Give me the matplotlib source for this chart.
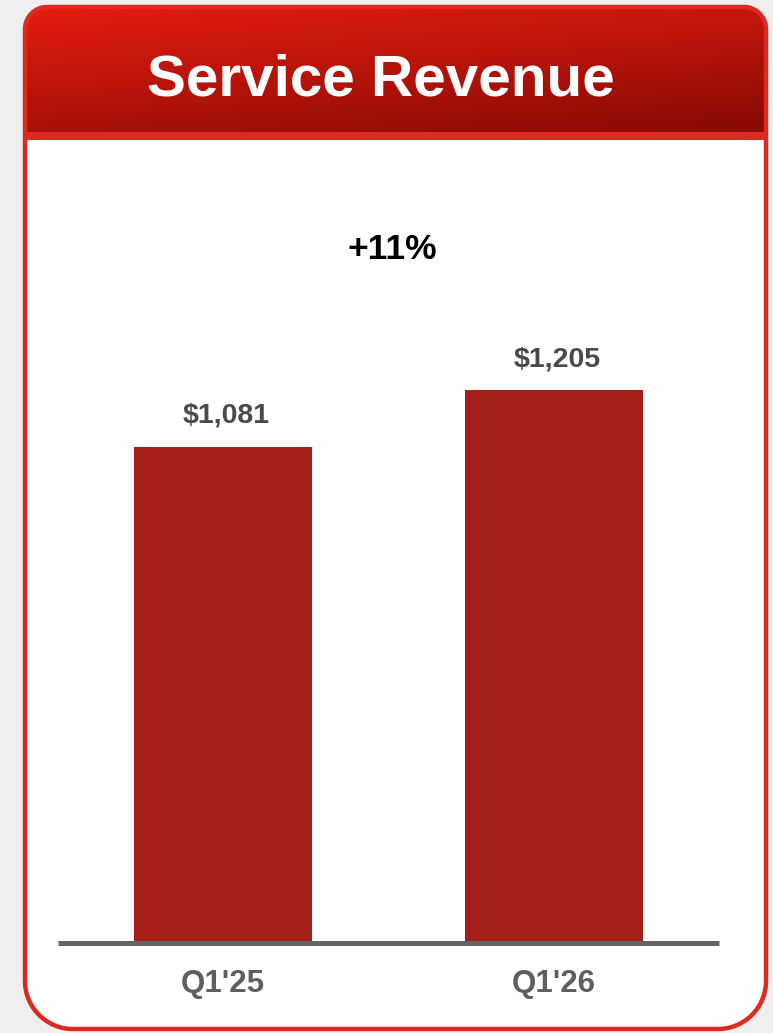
import numpy as np
import matplotlib
matplotlib.use("Agg")
import matplotlib.pyplot as plt
from matplotlib.path import Path
from matplotlib.patches import PathPatch

plt.rcParams['font.family'] = ['Liberation Sans', 'DejaVu Sans']

title = "Service Revenue"
growth = "+11%"
quarters = ["Q1'25", "Q1'26"]
revenue = [1081, 1205]
value_labels = ["$1,081", "$1,205"]

W, H = 773, 1033
BORDER = "#dc2a20"
BAR = "#a31f17"


def rounded_rect(x0, y0, x1, y1, r_top, r_bot):
    # path in pixel coords (y grows downward), different top/bottom radii
    k = 0.5523
    verts = [(x0 + r_top, y0), (x1 - r_top, y0),
             (x1 - r_top + k * r_top, y0), (x1, y0 + r_top - k * r_top), (x1, y0 + r_top)]
    codes = [Path.MOVETO, Path.LINETO, Path.CURVE4, Path.CURVE4, Path.CURVE4]
    if r_bot > 0:
        verts += [(x1, y1 - r_bot),
                  (x1, y1 - r_bot + k * r_bot), (x1 - r_bot + k * r_bot, y1), (x1 - r_bot, y1),
                  (x0 + r_bot, y1),
                  (x0 + r_bot - k * r_bot, y1), (x0, y1 - r_bot + k * r_bot), (x0, y1 - r_bot)]
        codes += [Path.LINETO, Path.CURVE4, Path.CURVE4, Path.CURVE4,
                  Path.LINETO, Path.CURVE4, Path.CURVE4, Path.CURVE4]
    else:
        verts += [(x1, y1), (x0, y1)]
        codes += [Path.LINETO, Path.LINETO]
    verts += [(x0, y0 + r_top),
              (x0, y0 + r_top - k * r_top), (x0 + r_top - k * r_top, y0), (x0 + r_top, y0),
              (x0 + r_top, y0)]
    codes += [Path.LINETO, Path.CURVE4, Path.CURVE4, Path.CURVE4, Path.CLOSEPOLY]
    return Path(verts, codes)


fig = plt.figure(figsize=(W / 100, H / 100), dpi=100, facecolor="#efefef")

bg = fig.add_axes([0, 0, 1, 1])
bg.set_xlim(0, W)
bg.set_ylim(H, 0)
bg.axis("off")

card = rounded_rect(25, 7, 766, 1029, 22, 48)
bg.add_patch(PathPatch(card, facecolor="white", edgecolor="none", zorder=1))

# header gradient
gx, gy = np.meshgrid(np.linspace(0, 1, 200), np.linspace(0, 1, 60))
t = np.clip(0.7 * gy + 0.35 * gx, 0, 1)
c0 = np.array([0xe6, 0x1d, 0x10]) / 255
c1 = np.array([0x8a, 0x0b, 0x04]) / 255
img = c0[None, None, :] * (1 - t[..., None]) + c1[None, None, :] * t[..., None]
header = rounded_rect(25, 7, 766, 134, 22, 0)
im = bg.imshow(img, extent=(25, 766, 134, 7), aspect="auto", zorder=2, interpolation="bilinear")
hp = PathPatch(header, facecolor="none", edgecolor="none", transform=bg.transData)
bg.add_patch(hp)
im.set_clip_path(hp)

bg.fill_between([25, 766], 132, 140, color=BORDER, zorder=3, linewidth=0)
bg.add_patch(PathPatch(card, facecolor="none", edgecolor=BORDER, linewidth=3.2, zorder=4))

bg.text(381, 95, title, color="white", fontsize=42, fontweight="bold",
        ha="center", va="baseline", zorder=5)
bg.text(392, 259, growth, color="black", fontsize=25.5, fontweight="bold",
        ha="center", va="baseline", zorder=5)

# bar chart
ax = fig.add_axes([58 / W, (H - 943) / H, (719 - 58) / W, (943 - 200) / H])
ax.set_facecolor("none")
x = np.arange(len(quarters))
ax.bar(x, revenue, width=0.54, color=BAR, zorder=2)
ax.set_xlim(-0.5, 1.5)
ax.set_ylim(0, 743 / 0.4589)
for s in ["top", "left", "right"]:
    ax.spines[s].set_visible(False)
ax.spines["bottom"].set_color("#646464")
ax.spines["bottom"].set_linewidth(3.6)
ax.spines["bottom"].set_capstyle("butt")
ax.spines["bottom"].set_zorder(3)
ax.set_yticks([])
ax.set_xticks([])

for xi, v, lab, q in zip(x, revenue, value_labels, quarters):
    ax.annotate(lab, (xi, v), xytext=(3, 24), textcoords="offset pixels",
                ha="center", va="baseline", fontsize=20.5, fontweight="bold", color="#4a4a4a")
    ax.annotate(q, (xi, 0), xycoords=("data", "axes fraction"), xytext=(0, -49),
                textcoords="offset pixels", ha="center", va="baseline",
                fontsize=22.5, fontweight="bold", color="#5f5f5f", annotation_clip=False)

fig.savefig("out.png", dpi=100, facecolor=fig.get_facecolor())
